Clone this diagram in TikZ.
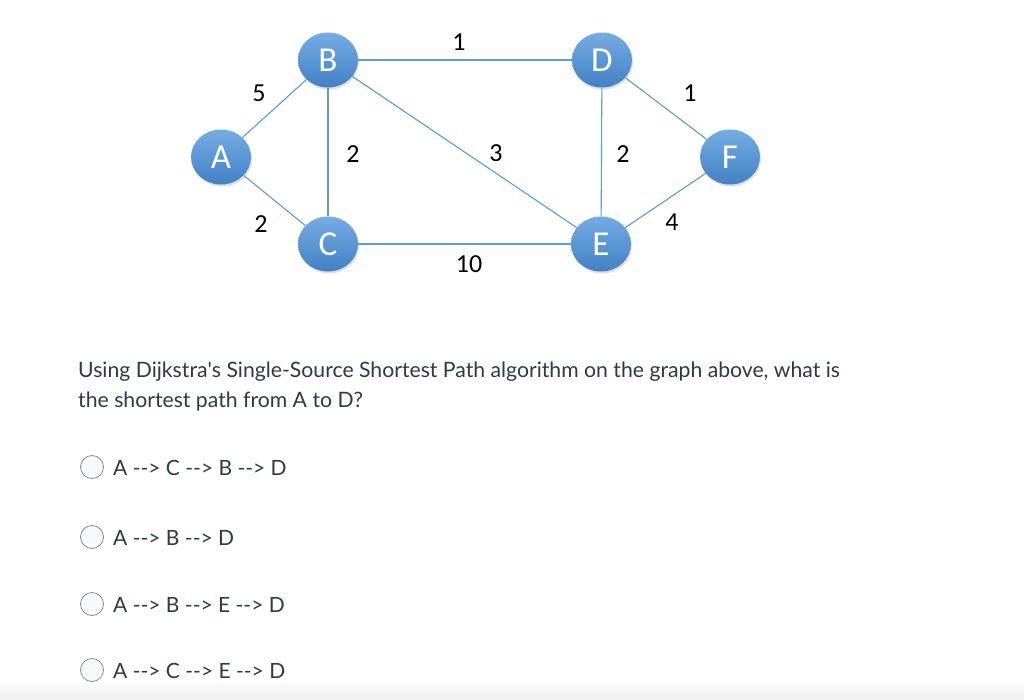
\documentclass[tikz,border=0pt]{standalone}
\usepackage{fontspec}
\setmainfont{Lato}
\newfontfamily\graphfont{Carlito}
\usetikzlibrary{shapes.geometric,shadows}
\definecolor{nodetop}{HTML}{75ACE2}
\definecolor{nodebot}{HTML}{4281C6}
\definecolor{edgeblue}{HTML}{5B9BD5}
\definecolor{radiogray}{HTML}{8A8A8A}
\definecolor{radiofill}{HTML}{F7F8FC}
\definecolor{bandgray}{HTML}{EFEFEF}
\definecolor{textgray}{HTML}{2D3B45}
\newcommand{\arr}{\mbox{-}\mbox{-}>}

\begin{document}
\begin{tikzpicture}[
    x=1pt, y=-1pt,
    vertex/.style={ellipse, minimum width=60pt, minimum height=55pt, inner sep=0pt, top color=nodetop, bottom color=nodebot, drop shadow={opacity=0.25, shadow xshift=1pt, shadow yshift=-2pt}, text=white, font=\graphfont\fontsize{35}{35}\selectfont},
    link/.style={draw=edgeblue, line width=1.1pt},
    wt/.style={font=\graphfont\fontsize{26}{26}\selectfont, inner sep=0pt},
    radio/.style={circle, draw=radiogray, fill=radiofill, minimum size=23pt, inner sep=0pt, line width=0.8pt},
    answer/.style={anchor=base west, inner sep=0pt, text=textgray, font=\fontsize{21}{25}\selectfont},
    question/.style={answer, font=\fontsize{21.2}{25}\selectfont}
    ]
    \useasboundingbox (0,0) rectangle (1024,699);
    \fill[white] (0,0) rectangle (1024,699);
    \shade[top color=white, bottom color=bandgray] (0,678) rectangle (1024,699);

    % graph
    \node[vertex] (A) at (221,157) {A};
    \node[vertex] (B) at (328,60) {B};
    \node[vertex] (C) at (328,244) {C};
    \node[vertex] (D) at (602,60) {D};
    \node[vertex] (E) at (601,244) {E};
    \node[vertex] (F) at (730,157) {F};
    \draw[link] (A) -- (B);
    \draw[link] (A) -- (C);
    \draw[link] (B) -- (C);
    \draw[link] (B) -- (D);
    \draw[link] (B) -- (E);
    \draw[link] (C) -- (E);
    \draw[link] (D) -- (E);
    \draw[link] (D) -- (F);
    \draw[link] (E) -- (F);

    % weights
    \node[wt] (wAB) at (259,93) {5};
    \node[wt] (wAC) at (261,224) {2};
    \node[wt] (wBC) at (353,154) {2};
    \node[wt] (wBD) at (459,42) {1};
    \node[wt] (wBE) at (496,153) {3};
    \node[wt] (wCE) at (469,264) {10};
    \node[wt] (wDE) at (623,154) {2};
    \node[wt] (wDF) at (690,93) {1};
    \node[wt] (wEF) at (672,222) {4};

    % question
    \node[question] (q1) at (78,377) {Using Dijkstra\textquotesingle s Single-Source Shortest Path algorithm on the graph above, what is};
    \node[question] (q2) at (78,407) {the shortest path from A to D?};

    % choices
    \node[radio] (r1) at (92,467) {};
    \node[answer] (a1) at (113,475) {A \arr{} C \arr{} B \arr{} D};
    \node[radio] (r2) at (92,537) {};
    \node[answer] (a2) at (113,545) {A \arr{} B \arr{} D};
    \node[radio] (r3) at (92,604) {};
    \node[answer] (a3) at (113,612) {A \arr{} B \arr{} E \arr{} D};
    \node[radio] (r4) at (92,670) {};
    \node[answer] (a4) at (113,678) {A \arr{} C \arr{} E \arr{} D};
\end{tikzpicture}
\end{document}
